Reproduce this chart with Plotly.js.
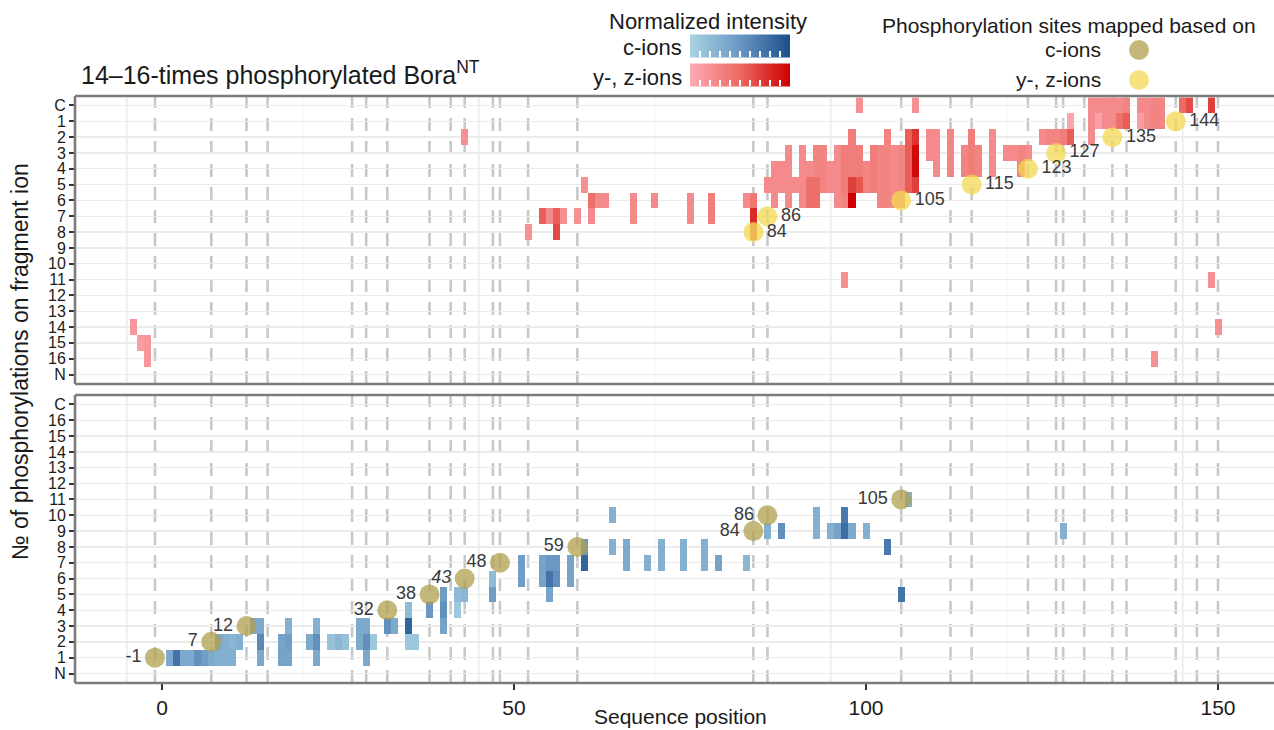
<!DOCTYPE html>
<html>
<head>
<meta charset="utf-8">
<script src="https://cdn.plot.ly/plotly-3.0.1.min.js"></script>
<style>html,body{margin:0;padding:0;background:#fff;}#chart{width:1274px;height:730px;}</style>
</head>
<body>
<div id="chart"></div>
<script>
// ---------- DATA ----------
// Row labels
const topTickText = ['C','1','2','3','4','5','6','7','8','9','10','11','12','13','14','15','16','N'];
const bottomTickText = ['N','1','2','3','4','5','6','7','8','9','10','11','12','13','14','15','16','C'];
const xTickVals = [0, 50, 100, 150];

// Dashed lines: mapped phosphorylation sites
const siteLines = [-1, 7, 12, 15, 27, 29, 32, 38, 41, 43, 47, 48, 52, 59, 84, 86, 105, 112, 115, 123, 127, 128, 131, 135, 137, 144, 147, 150];
const gridMajor = [-5, 45, 95, 145];
const gridMinor = [20, 70, 120];

// y-, z-ion fragments (top panel): position, first row, last row, normalized intensity
const redPos  = [-4,-3,-2,43,52,54,55,56,56,57,59,60,61,61,62,63,67,70,75,78,83,84,84,84,86,87,88,89,90,91,92,92,93,93,94,95,96,97,97,98,98,98,99,99,99,100,101,102,103,104,105,106,107,107,107,107,109,110,112,114,115,116,118,120,121,122,123,125,126,127,128,129,129,132,133,133,134,135,136,136,137,137,139,139,140,141,142,145,146,149,97,149,150,141];
const redFrom = [14,15,15, 2, 8, 7, 7, 7, 8, 7, 7, 5, 6, 7, 6, 6, 6, 6, 6, 6, 6, 6, 7, 8, 5, 4, 4, 3, 5, 3, 4, 5, 3, 5, 3, 4, 3, 3, 6, 2, 5, 6, 0, 3, 5,  4,  3,  3,  2,  3,  3,  2,  0,  2,  3,  5,  2,  2,  2,  3,  2,  3,  2,  3,  3,  3,  3,  2,  2,  2,  2,  1,  2,  0,  0,  1,  0,  0,  0,  1,  0,  1,  0,  1,  0,  0,  0,  0,  0,  0, 11, 11, 14, 16];
const redTo   = [14,15,16, 2, 8, 7, 7, 7, 8, 7, 7, 5, 6, 7, 6, 6, 7, 6, 7, 7, 6, 6, 7, 8, 5, 6, 5, 6, 5, 6, 4, 6, 4, 6, 5, 5, 6, 5, 6, 4, 5, 6, 0, 4, 5,  5,  5,  6,  6,  6,  6,  5,  0,  2,  4,  5,  3,  4,  4,  4,  4,  4,  4,  3,  3,  4,  3,  2,  2,  2,  2,  1,  2,  2,  0,  1,  1,  1,  0,  1,  0,  1,  0,  1,  1,  1,  1,  0,  0,  0, 11, 11, 14, 16];
const redVal  = [0.15,0.1,0.15,0.2,0.2,0.55,0.25,0.55,0.65,0.2,0.2,0.2,0.45,0.25,0.25,0.25,0.25,0.25,0.25,0.35,0.25,0.4,0.8,0.6,0.25,0.25,0.25,0.25,0.25,0.25,0.25,0.45,0.3,0.45,0.3,0.25,0.25,0.35,0.3,0.35,0.7,1.0,0.2,0.35,0.6,0.3,0.35,0.3,0.3,0.25,0.3,0.55,0.2,0.75,0.95,0.7,0.25,0.25,0.3,0.3,0.35,0.3,0.25,0.25,0.25,0.3,0.25,0.25,0.3,0.3,0.35,0.05,0.55,0.25,0.25,0.08,0.25,0.25,0.25,0.45,0.3,0.55,0.25,0.1,0.25,0.3,0.3,0.5,0.65,0.7,0.2,0.2,0.2,0.2];

// c-ion fragments (bottom panel)
const bluePos  = [1,2,3,4,5,6,7,8,9,10,8,9,10,11,13,14,14,14,17,18,18,18,21,22,22,22,24,25,26,28,29,29,29,30,32,33,35,35,35,36,38,40,40,40,42,42,43,47,47,51,54,55,55,55,56,56,58,60,60,64,64,66,69,71,74,77,79,83,86,88,93,95,96,97,97,98,100,103,105,106,128];
const blueFrom = [1,1,1,1,1,1,1,1,1, 1,2,2, 2, 2, 3, 3, 2, 1, 1, 1, 2, 3, 2, 1, 2, 3, 2, 2, 2, 2, 1, 2, 3, 2, 3, 3, 2, 3, 4, 2, 4, 3, 4, 5, 4, 5, 5, 5, 6, 6, 6, 5, 6, 7, 6, 7, 6, 7, 8, 8,10, 7, 7, 7, 7, 7, 7, 7, 9, 9, 9, 9, 9, 9,10, 9, 9, 8, 5,11, 9];
const blueTo   = [1,1,1,1,1,1,1,1,1, 1,2,2, 2, 2, 3, 3, 2, 1, 2, 1, 2, 3, 2, 1, 2, 3, 2, 2, 2, 3, 1, 2, 3, 2, 3, 3, 2, 3, 4, 2, 4, 3, 4, 5, 4, 5, 5, 5, 6, 7, 7, 5, 6, 7, 6, 7, 7, 7, 8, 8,10, 8, 7, 8, 8, 8, 7, 7, 9, 9,10, 9, 9, 9,10, 9, 9, 8, 5,11, 9];
const blueVal  = [0.35,0.75,0.35,0.35,0.55,0.45,0.35,0.3,0.3,0.3,0.35,0.3,0.25,0.3,0.35,0.35,0.6,0.35,0.4,0.4,0.45,0.3,0.35,0.35,0.55,0.3,0.15,0.25,0.15,0.35,0.35,0.55,0.35,0.1,0.55,0.35,0.1,0.85,0.2,0.1,0.5,0.4,0.55,0.45,0.1,0.2,0.25,0.45,0.2,0.45,0.4,0.4,0.75,0.5,0.55,0.5,0.4,0.85,0.5,0.3,0.3,0.35,0.3,0.3,0.3,0.3,0.4,0.25,0.3,0.55,0.3,0.3,0.4,0.8,0.7,0.35,0.3,0.7,0.75,0.3,0.3];

// Phosphorylation sites mapped based on y-, z-ions (top) and c-ions (bottom)
const yzSites  = [84, 86, 105, 115, 123, 127, 135, 144];
const yzRows   = [8, 7, 6, 5, 4, 3, 2, 1];
const yzLabels = ['84','86','105','115','123','127','135','144'];
const cSites   = [-1, 7, 12, 32, 38, 43, 48, 59, 84, 86, 105];
const cRows    = [1, 2, 3, 4, 5, 6, 7, 8, 9, 10, 11];
const cLabels  = ['-1','7','12','32','38','<i>43</i>','48','59','84','86','105'];

// ---------- BUILD ----------
const X0 = -13, X1 = 158;
const xs = []; for (let p = X0; p <= X1; p++) xs.push(p);
const ys = []; for (let r = 0; r <= 17; r++) ys.push(r);
function buildGrid(pos, from, to, val) {
  const z = ys.map(() => xs.map(() => null));
  for (let i = 0; i < pos.length; i++) {
    for (let r = from[i]; r <= to[i]; r++) {
      const c = pos[i] - X0;
      z[r][c] = Math.max(z[r][c] || 0, val[i]);
    }
  }
  return z;
}

const L = 75, T = 96, W = 1199, H = 587;
const px = v => (v - L) / W;
const py = v => (T + H - v) / H;
const FONT = 'Liberation Sans, Arial, sans-serif';

const redScale = [[0, '#fcaab3'], [0.5, '#ec6a62'], [1, '#cc0000']];
const blueScale = [[0, '#a9d3e3'], [0.5, '#6a97c3'], [1, '#1b4f8c']];
const cbTicks = [0.1,0.2,0.3,0.4,0.5,0.6,0.7,0.8,0.9];

function cb(yPix) {
  return {
    orientation: 'h', x: px(740), xanchor: 'center', y: py(yPix), yanchor: 'middle',
    len: 100, lenmode: 'pixels', thickness: 23, outlinewidth: 0, xpad: 0, ypad: 0,
    tickvals: cbTicks, showticklabels: false, ticks: 'inside', tickcolor: 'white', ticklen: 6, tickwidth: 1.5
  };
}

const traces = [
  { type: 'heatmap', x: xs, y: ys, z: buildGrid(redPos, redFrom, redTo, redVal), xaxis: 'x', yaxis: 'y2',
    colorscale: redScale, zmin: 0, zmax: 1, showscale: true, colorbar: cb(77.5), hoverinfo: 'skip' },
  { type: 'heatmap', x: xs, y: ys, z: buildGrid(bluePos, blueFrom, blueTo, blueVal), xaxis: 'x', yaxis: 'y',
    colorscale: blueScale, zmin: 0, zmax: 1, showscale: true, colorbar: cb(48.5), hoverinfo: 'skip' },
  { type: 'scatter', mode: 'markers+text', x: yzSites, y: yzRows, text: yzLabels, xaxis: 'x', yaxis: 'y2',
    textposition: 'middle right', textfont: { family: FONT, size: 18, color: '#3a3a3a' },
    marker: { size: 20, color: '#f2d850', opacity: 0.75, line: { width: 0 } }, hoverinfo: 'skip', showlegend: false, cliponaxis: false },
  { type: 'scatter', mode: 'markers+text', x: cSites, y: cRows, text: cLabels, xaxis: 'x', yaxis: 'y',
    textposition: 'middle left', textfont: { family: FONT, size: 18, color: '#3a3a3a' },
    marker: { size: 20, color: '#b09f4e', opacity: 0.75, line: { width: 0 } }, hoverinfo: 'skip', showlegend: false, cliponaxis: false }
];

const shapes = [];
['y', 'y2'].forEach(ya => {
  gridMajor.forEach(g => shapes.push({ type: 'line', xref: 'x', yref: ya + ' domain', x0: g, x1: g, y0: 0, y1: 1, layer: 'below', line: { color: '#e6e6e6', width: 1.3 } }));
  gridMinor.forEach(g => shapes.push({ type: 'line', xref: 'x', yref: ya + ' domain', x0: g, x1: g, y0: 0, y1: 1, layer: 'below', line: { color: '#f3f3f3', width: 1 } }));
  siteLines.forEach(s => shapes.push({ type: 'line', xref: 'x', yref: ya + ' domain', x0: s, x1: s, y0: 0, y1: 1, layer: 'below', line: { color: '#c8c8c8', width: 2.6, dash: '13px,10px' } }));
  // panel frame (top, bottom, left)
  const fl = { color: '#7c7c7c', width: 2.6 };
  shapes.push({ type: 'line', xref: 'x domain', yref: ya + ' domain', x0: 0, x1: 1, y0: 1, y1: 1, line: fl });
  shapes.push({ type: 'line', xref: 'x domain', yref: ya + ' domain', x0: 0, x1: 1, y0: 0, y1: 0, line: fl });
  shapes.push({ type: 'line', xref: 'x domain', yref: ya + ' domain', x0: 0, x1: 0, y0: 0, y1: 1, line: fl });
});
// legend circles
shapes.push({ type: 'circle', xref: 'paper', yref: 'paper', xsizemode: 'pixel', ysizemode: 'pixel', xanchor: px(1139), yanchor: py(50), x0: -10, x1: 10, y0: -10, y1: 10, fillcolor: '#c4b77a', line: { width: 0 } });
shapes.push({ type: 'circle', xref: 'paper', yref: 'paper', xsizemode: 'pixel', ysizemode: 'pixel', xanchor: px(1139), yanchor: py(80), x0: -10, x1: 10, y0: -10, y1: 10, fillcolor: '#f5e27c', line: { width: 0 } });

function ann(text, x, y, xanchor, size, extra) {
  return Object.assign({ text, x: px(x), y: py(y), xref: 'paper', yref: 'paper', xanchor, yanchor: 'middle', showarrow: false, font: { family: FONT, size, color: '#1a1a1a' } }, extra || {});
}
const annotations = [
  ann('14–16-times phosphorylated Bora<sup>NT</sup>', 79, 73, 'left', 25),
  ann('Normalized intensity', 708, 22, 'center', 22),
  ann('c-ions', 684, 48, 'right', 22),
  ann('y-, z-ions', 684, 78, 'right', 22),
  ann('Phosphorylation sites mapped based on', 1069, 25, 'center', 21),
  ann('c-ions', 1103, 50, 'right', 21),
  ann('y-, z-ions', 1103, 80, 'right', 21),
  ann('Sequence position', 680, 716, 'center', 21),
  ann('№ of phosphorylations on fragment ion', 20, 362, 'center', 23, { textangle: -90 })
];

const yCommon = {
  tickvals: ys, ticks: 'outside', ticklen: 5, tickwidth: 2, tickcolor: '#333',
  tickfont: { family: FONT, size: 16, color: '#1a1a1a' },
  showgrid: true, gridcolor: '#ebebeb', gridwidth: 1.3, zeroline: false, showline: false, fixedrange: true
};

const layout = {
  width: 1274, height: 730,
  margin: { l: L, r: 0, t: T, b: 730 - T - H },
  paper_bgcolor: '#ffffff', plot_bgcolor: '#ffffff',
  font: { family: FONT, color: '#1a1a1a' },
  showlegend: false,
  xaxis: { range: [-12.36, -12.36 + W / 7.04], anchor: 'y', tickvals: xTickVals, ticks: 'outside', ticklen: 6, tickwidth: 2, tickcolor: '#333',
           tickfont: { family: FONT, size: 21, color: '#1a1a1a' }, showgrid: false, zeroline: false, showline: false },
  yaxis: Object.assign({}, yCommon, { domain: [0, 288 / H], range: [-0.6, 17.6], ticktext: bottomTickText, anchor: 'x' }),
  yaxis2: Object.assign({}, yCommon, { domain: [1 - 288 / H, 1], range: [17.6, -0.6], ticktext: topTickText, anchor: 'x' }),
  shapes, annotations
};

Plotly.newPlot('chart', traces, layout, { displayModeBar: false, staticPlot: true });
</script>
</body>
</html>
